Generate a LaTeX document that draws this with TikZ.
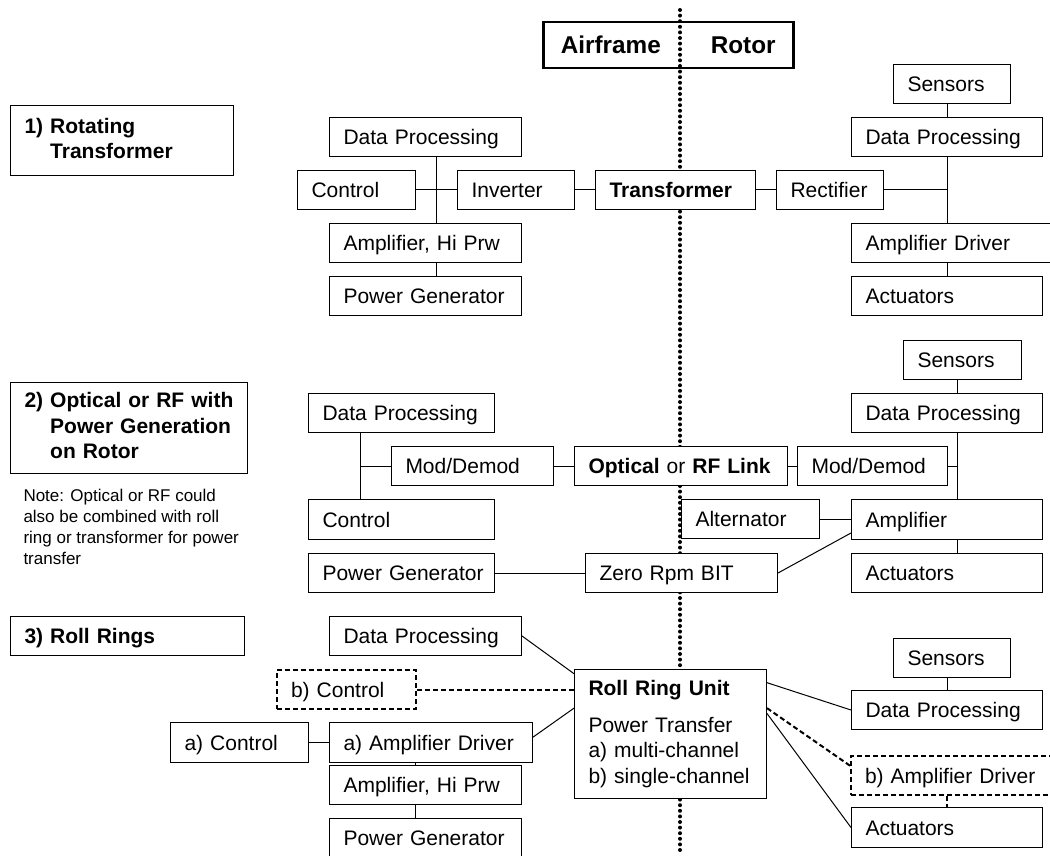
\documentclass[tikz,border=0pt]{standalone}
\usepackage{fontspec}
\setmainfont{Liberation Sans}
\usetikzlibrary{calc}
\newcommand\fbx{\fontsize{21pt}{25.5pt}\selectfont\hyphenpenalty=10000\exhyphenpenalty=10000}
\newcommand\fnote{\fontsize{17pt}{21pt}\selectfont}
\newcommand\fab{\fontsize{24.3pt}{28pt}\selectfont\bfseries}
\begin{document}
\begin{tikzpicture}[x=1pt,y=-1pt,line width=1pt,
  base/.style={draw, fill=white, rectangle, inner xsep=14pt, inner ysep=0pt, align=left, font=\fbx, anchor=north west, minimum height=39pt},
  bx/.style={base, text width=#1, text height=15pt, text depth=0pt},
  mbx/.style={base, text width=#1},
  dbx/.style={bx=#1, line width=2pt, dash pattern=on 5pt off 3pt},
  dln/.style={line width=2pt, dash pattern=on 5pt off 3pt},
  sep/.style={line width=4pt, line cap=round, dash pattern=on 0pt off 5.6pt},
]
\clip (0,0) rectangle (1050,856);
\fill[white] (0,0) rectangle (1050,856);

% ---------- boxes drawn under the separator ----------
\node[bx=110pt] (alt) at (681,499) {Alternator};

% ---------- separator ----------
\coordinate (dtop) at (680,10);
\coordinate (dbot) at (680,854);
\draw[sep] (dtop) -- (dbot);

\node[draw, line width=2.5pt, anchor=north west, minimum width=250pt, minimum height=46pt,
      inner sep=0pt, font=\fab, text height=17.4pt, text depth=0pt] (ab) at (542,21)
      {Airframe\hspace{50pt}Rotor};

% ---------- section 1 ----------
\node[mbx=195pt, minimum height=70pt, font=\fbx\bfseries] (hdr1) at (10,105)
  {1) Rotating\\\phantom{1) }Transformer};
\node[bx=164pt] (dp1L) at (329,117) {\mbox{Data Processing}};
\node[bx=90pt] (ctl1) at (297,170) {Control};
\node[bx=89pt] (inv) at (457,170) {Inverter};
\node[bx=132pt, font=\fbx\bfseries] (tr) at (595,170) {Transformer};
\node[bx=164pt] (amp1L) at (329,223) {\mbox{Amplifier, Hi Prw}};
\node[bx=164pt] (pg1) at (329,276) {\mbox{Power Generator}};
\node[bx=79pt] (rect) at (776,170) {Rectifier};
\node[bx=89pt] (sen1) at (893,64) {Sensors};
\node[bx=163pt] (dp1R) at (851,117) {\mbox{Data Processing}};
\node[bx=187pt] (ampdrv1) at (851,223) {\mbox{Amplifier Driver}};
\node[bx=163pt] (act1) at (851,276) {Actuators};

\coordinate (t1L) at (436,0);
\coordinate (t1R) at (947,0);
\draw (dp1L.south -| t1L) -- (amp1L.north -| t1L);
\draw (ctl1.east) -- (inv.west);
\draw (amp1L.south -| t1L) -- (pg1.north -| t1L);
\draw (inv.east) -- (tr.west);
\draw (tr.east) -- (rect.west);
\draw (sen1.south -| t1R) -- (dp1R.north -| t1R);
\draw (dp1R.south -| t1R) -- (ampdrv1.north -| t1R);
\draw (rect.east) -- (rect.east -| t1R);
\draw (ampdrv1.south -| t1R) -- (act1.north -| t1R);

% ---------- section 2 ----------
\node[mbx=209pt, minimum height=91pt, font=\fbx\bfseries] (hdr2) at (10,382)
  {2) Optical or RF with\\\phantom{2) }Power Generation\\\phantom{2) }on Rotor};
\node[anchor=north west, inner sep=0pt, align=left, font=\fnote] (note) at (23,489)
  {Note: Optical or RF could\\also be combined with roll\\ring or transformer for power\\transfer};
\node[bx=158pt] (dp2L) at (308,393) {\mbox{Data Processing}};
\node[bx=134pt] (md2L) at (391,446) {Mod/Demod};
\node[bx=158pt, minimum height=40pt] (ctl2) at (308,499) {Control};
\node[bx=158pt] (pg2) at (308,553) {\mbox{Power Generator}};
\node[bx=185pt] (orf) at (574,446) {\mbox{\textbf{Optical} or \textbf{RF Link}}};
\node[bx=122pt] (md2R) at (797,446) {Mod/Demod};
\node[bx=90pt] (sen2) at (903,340) {Sensors};
\node[bx=163pt] (dp2R) at (851,393) {\mbox{Data Processing}};
\node[bx=163pt, minimum height=40pt] (amp2) at (851,499) {Amplifier};
\node[bx=164pt] (zr) at (585,553) {\mbox{Zero Rpm BIT}};
\node[bx=163pt] (act2) at (851,553) {Actuators};

\coordinate (t2L) at (360,466);
\coordinate (t2R) at (957,466);
\draw (dp2L.south -| t2L) -- (ctl2.north -| t2L);
\draw (md2L.west -| t2L) -- (md2L.west);
\draw (md2L.east) -- (orf.west);
\draw (orf.east) -- (md2R.west);
\draw (md2R.east) -- (md2R.east -| t2R);
\draw (sen2.south -| t2R) -- (dp2R.north -| t2R);
\draw (dp2R.south -| t2R) -- (amp2.north -| t2R);
\draw (amp2.south -| t2R) -- (act2.north -| t2R);
\draw (alt.east) -- (amp2.west |- alt.east);
\draw (pg2.east) -- (zr.west);
\draw (zr.east) -- (amp2.188);

% ---------- section 3 ----------
\node[bx=206pt, font=\fbx\bfseries] (hdr3) at (10,616) {3) Roll Rings};
\node[bx=164pt] (dp3L) at (329,616) {\mbox{Data Processing}};
\node[dbx=111pt] (bctl) at (276,669) {b) Control};
\node[bx=110pt, minimum height=40pt] (actl) at (170,722) {a) Control};
\node[bx=175pt, minimum height=40pt] (aamp) at (329,722) {\mbox{a) Amplifier Driver}};
\node[bx=164pt] (amp3) at (329,765) {\mbox{Amplifier, Hi Prw}};
\node[bx=164pt] (pg3) at (329,818) {\mbox{Power Generator}};
\node[mbx=164pt, minimum height=129pt] (rru) at (574,669)
  {\textbf{Roll Ring Unit}\\[11pt]Power Transfer\\\mbox{a) multi-channel}\\\mbox{b) single-channel}};
\node[bx=89pt] (sen3) at (893,638) {Sensors};
\node[bx=163pt] (dp3R) at (851,690) {\mbox{Data Processing}};
\node[dbx=194pt] (bamp) at (850,755) {\mbox{b) Amplifier Driver}};
\node[bx=163pt, minimum height=40pt] (act3) at (851,807) {Actuators};

\coordinate (t3L) at (415,0);
\coordinate (t3R) at (947,0);
\draw (dp3L.east) -- (rru.148);
\draw[dln] (bctl.east) -- (bctl.east -| rru.west);
\draw (aamp.3) -- (rru.165);
\draw (actl.east) -- (aamp.west);
\draw (aamp.south -| t3L) -- (amp3.north -| t3L);
\draw (amp3.south -| t3L) -- (pg3.north -| t3L);
\draw (rru.28) -- (dp3R.west);
\draw[dln] (rru.15) -- (bamp.175);
\draw (rru.12) -- (act3.west);
\draw (sen3.south -| t3R) -- (dp3R.north -| t3R);
\draw[dln] (bamp.south -| t3R) -- (act3.north -| t3R);
\end{tikzpicture}
\end{document}
